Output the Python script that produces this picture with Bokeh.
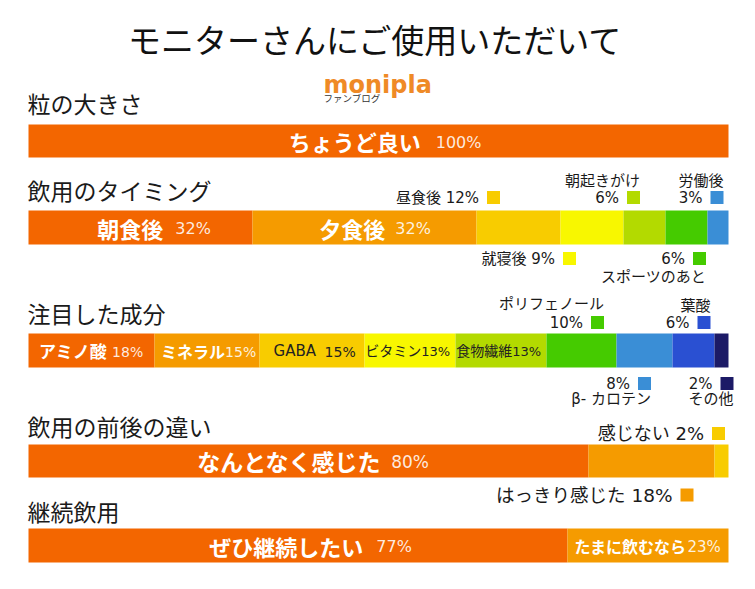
from bokeh.plotting import figure
from bokeh.models import ColumnDataSource, Range1d
from bokeh.core.properties import value
from bokeh.embed import file_html
from bokeh.resources import INLINE

# ---------------- data ----------------
chart_title = "モニターさんにご使用いただいて"
brand = "monipla"
brand_sub = "ファンブログ"

size_title = "粒の大きさ"
size_labels = ["ちょうど良い"]
size_values = [100]

timing_title = "飲用のタイミング"
timing_labels = ["朝食後", "夕食後", "昼食後", "就寝後", "朝起きがけ", "スポーツのあと", "労働後"]
timing_values = [32, 32, 12, 9, 6, 6, 3]

ingr_title = "注目した成分"
ingr_labels = ["アミノ酸", "ミネラル", "GABA", "ビタミン", "食物繊維", "ポリフェノール", "β- カロテン", "葉酸", "その他"]
ingr_values = [18, 15, 15, 13, 13, 10, 8, 6, 2]

diff_title = "飲用の前後の違い"
diff_labels = ["なんとなく感じた", "はっきり感じた", "感じない"]
diff_values = [80, 18, 2]

cont_title = "継続飲用"
cont_labels = ["ぜひ継続したい", "たまに飲むなら"]
cont_values = [77, 23]

# ---------------- styles / layout ----------------
C = ["#F36600", "#F59B00", "#F8CC00", "#F8F700", "#B3DA00", "#45CB00", "#3A8ED6", "#2A50D2", "#1C1A66"]
JP = "Noto Sans CJK JP"
MIX = "DejaVu Sans, Noto Sans CJK JP"
NUM = "DejaVu Sans"
PX = 7.0  # pixels per percent
W, H = 739, 573

# inline label spec: idx -> (kind, label size, pct size, gap px, shift px)
rows = [
    dict(title=size_title, labels=size_labels, values=size_values, colors=C[:1],
         title_y=102, top=124, bottom=157,
         inline={0: ("w", 22, 16, 15, 7)}, callouts=[]),
    dict(title=timing_title, labels=timing_labels, values=timing_values, colors=C[:7],
         title_y=189, top=210, bottom=244,
         inline={0: ("w", 22, 16, 12, 14), 1: ("w", 22, 16, 10, 11)},
         callouts=[  # idx, square dx from segment left, value dy, label dy, font size, combined
             (2, 17, -13, None, 15, True),
             (3, 9, 14, None, 15, True),
             (4, 10, -13, -30, 15, False),
             (5, 34, 14, 32, 15, False),
             (6, 9.5, -13, -30, 15, False)]),
    dict(title=ingr_title, labels=ingr_labels, values=ingr_values, colors=C[:9],
         title_y=312, top=333, bottom=367,
         inline={0: ("w", 17, 14, 5, 0), 1: ("w", 16, 14, 0, 2), 2: ("d", 15, 14, 9, 3),
                 3: ("d", 14, 13, 0, -2), 4: ("d", 14, 13, 0, -2)},
         callouts=[
             (5, 51, -11, -30, 15, False),
             (6, 28, 16, 31, 15, False),
             (7, 31.5, -11, -28, 15, False),
             (8, 12.5, 16, 31, 15, False)]),
    dict(title=diff_title, labels=diff_labels, values=diff_values, colors=[C[0], C[1], C[2]],
         title_y=425, top=444, bottom=477,
         inline={0: ("w", 23, 17, 10, 5)},
         callouts=[
             (1, 98.5, 17.5, None, 18.5, True),
             (2, 4, -11, None, 18, True)]),
    dict(title=cont_title, labels=cont_labels, values=cont_values, colors=[C[0], C[1]],
         title_y=510, top=528, bottom=562,
         inline={0: ("w", 22, 16, 13, 13), 1: ("w", 16, 15, 1, 0)}, callouts=[]),
]


def est_width(s, fs):
    w = 0.0
    for ch in s:
        o = ord(ch)
        if o >= 0x2E80:
            w += 1.0
        elif ch.isdigit():
            w += 0.636
        elif ch == "%":
            w += 1.0
        elif ch == " ":
            w += 0.318
        elif ch.isupper():
            w += 0.70
        else:
            w += 0.6
    return w * fs


p = figure(width=W, height=H, output_backend="svg", toolbar_location=None,
           x_range=Range1d(-28 / PX, -28 / PX + W / PX), y_range=Range1d(H, 0),
           x_axis_type=None, y_axis_type=None, min_border=0)
p.outline_line_color = None
p.xgrid.visible = False
p.ygrid.visible = False
p.background_fill_color = "white"

# title and brand
p.text(x=[50], y=[38], text=[chart_title], text_font=value(JP), text_font_size="33px",
       text_color="#111111", text_align="center", text_baseline="middle", x_offset=-3)
p.text(x=[50], y=[84], text=[brand], text_font=value(NUM), text_font_size="24px",
       text_font_style="bold", text_color="#EF8A26", text_align="left",
       text_baseline="alphabetic", x_offset=-55)
p.text(x=[50], y=[97], text=[brand_sub], text_font=value(JP), text_font_size="9.5px",
       text_color="#333333", text_align="left", text_baseline="alphabetic", x_offset=-55)

for r in rows:
    vals = r["values"]
    lefts, rights = [], []
    acc = 0
    for v in vals:
        lefts.append(acc)
        acc += v
        rights.append(acc)
    n = len(vals)
    src = ColumnDataSource(dict(left=lefts, right=rights, top=[r["top"]] * n,
                                bottom=[r["bottom"]] * n, color=r["colors"]))
    p.quad(left="left", right="right", top="top", bottom="bottom", fill_color="color",
           line_color=None, source=src)

    # section title
    p.text(x=[0], y=[r["title_y"]], text=[r["title"]], text_font=value(JP),
           text_font_size="23px", text_color="#1a1a1a", text_align="left",
           text_baseline="middle", x_offset=-1)

    cy = (r["top"] + r["bottom"]) / 2
    for idx, (kind, fl, fp, gap, shift) in r["inline"].items():
        lab = r["labels"][idx]
        pct = f"{vals[idx]}%"
        cx = (lefts[idx] + rights[idx]) / 2
        wl = est_width(lab, fl)
        wp = est_width(pct, fp)
        start = -(wl + gap + wp) / 2 + shift
        if kind == "w":
            p.text(x=[cx], y=[cy], text=[lab], text_font=value(JP), text_font_size=f"{fl}px",
                   text_font_style="bold", text_color="white", text_align="left",
                   text_baseline="middle", x_offset=start)
            p.text(x=[cx], y=[cy + 1], text=[pct], text_font=value(NUM), text_font_size=f"{fp}px",
                   text_color="white", text_alpha=0.88, text_align="left",
                   text_baseline="middle", x_offset=start + wl + gap)
        else:
            p.text(x=[cx], y=[cy], text=[lab], text_font=value(MIX), text_font_size=f"{fl}px",
                   text_color="#222222", text_align="left",
                   text_baseline="middle", x_offset=start)
            p.text(x=[cx], y=[cy + 1], text=[pct], text_font=value(NUM), text_font_size=f"{fp}px",
                   text_color="#222222", text_align="left",
                   text_baseline="middle", x_offset=start + wl + gap)

    for idx, sdx, vdy, ldy, fs, combined in r["callouts"]:
        lab = r["labels"][idx]
        pct = f"{vals[idx]}%"
        base = r["top"] if vdy < 0 else r["bottom"]
        vy = base + vdy
        x0 = lefts[idx]
        p.rect(x=[x0 + sdx / PX], y=[vy], width=13, height=13, width_units="screen",
               height_units="screen", fill_color=r["colors"][idx], line_color=None)
        txt = f"{lab} {pct}" if combined else pct
        p.text(x=[x0], y=[vy], text=[txt], text_font=value(MIX), text_font_size=f"{fs}px",
               text_color="#1a1a1a", text_align="right", text_baseline="middle",
               x_offset=sdx - 6.5 - 8)
        if ldy is not None:
            ly = (r["top"] if ldy < 0 else r["bottom"]) + ldy
            p.text(x=[x0], y=[ly], text=[lab], text_font=value(MIX), text_font_size=f"{fs}px",
                   text_color="#1a1a1a", text_align="right", text_baseline="middle",
                   x_offset=sdx + 6.5)

open("out.html", "w").write(file_html(p, INLINE))
